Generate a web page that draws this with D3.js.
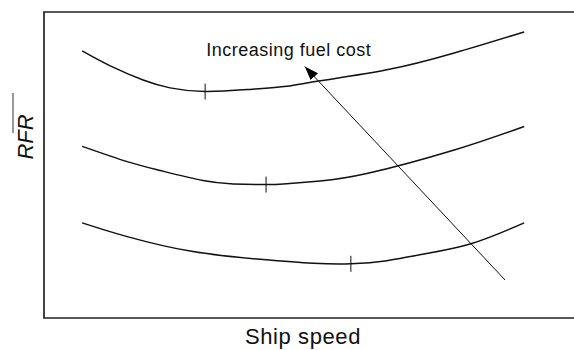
<!DOCTYPE html>
<html>
<head>
<meta charset="utf-8">
<script src="https://cdn.jsdelivr.net/npm/d3@7"></script>
<style>
  html, body { margin: 0; padding: 0; background: #fff; }
  svg { display: block; font-family: "Liberation Sans", Arial, sans-serif; }
</style>
</head>
<body>
<svg id="chart" width="574" height="350"></svg>
<script>
// Required freight rate vs. ship speed, one curve per fuel price level
const speedLow  = [0.72, 1.25, 1.87, 2.38, 3.04, 3.89, 4.58, 5.21, 6.47, 7.74, 9.06];
const rfrLow    = [8.73, 8.24, 7.78, 7.52, 7.40, 7.47, 7.57, 7.75, 8.11, 8.66, 9.35];
const speedMid  = [0.72, 1.57, 2.19, 3.00, 3.57, 4.19, 4.58, 5.21, 6.09, 7.74, 9.06];
const rfrMid    = [5.61, 5.11, 4.82, 4.49, 4.38, 4.36, 4.39, 4.48, 4.72, 5.49, 6.26];
const speedHigh = [0.72, 1.57, 2.81, 4.08, 5.08, 5.79, 6.47, 7.09, 8.04, 9.06];
const rfrHigh   = [3.11, 2.66, 2.17, 1.92, 1.79, 1.77, 1.87, 2.07, 2.42, 3.11];

// optimum speed (minimum RFR) on each curve
const optSpeed = [3.04, 4.19, 5.79];
const optRfr   = [7.40, 4.36, 1.77];

// arrow showing the direction of rising fuel cost
const arrowFrom = [8.70, 1.24];
const arrowTo   = [4.92, 8.22];
const arrowText = "Increasing fuel cost";

const xTitle = "Ship speed";
const yTitle = "RFR";

const svg = d3.select("#chart");
const m = { left: 44, right: 574, top: 12, bottom: 318 };

const x = d3.scaleLinear().domain([0, 10]).range([m.left, m.right]);
const y = d3.scaleLinear().domain([0, 10]).range([m.bottom, m.top]);

// frame: left, top and bottom edges
svg.append("path")
  .attr("d", d3.line()([[m.right, m.top], [m.left, m.top], [m.left, m.bottom], [m.right, m.bottom]]))
  .attr("stroke", "#222").attr("stroke-width", 1.7).attr("fill", "none");

const line = d3.line().x(d => x(d[0])).y(d => y(d[1])).curve(d3.curveNatural);

const curves = [
  d3.zip(speedLow, rfrLow),
  d3.zip(speedMid, rfrMid),
  d3.zip(speedHigh, rfrHigh)
];

svg.append("g")
  .selectAll("path")
  .data(curves)
  .join("path")
  .attr("d", line)
  .attr("fill", "none")
  .attr("stroke", "#111")
  .attr("stroke-width", 1.5);

// small vertical ticks marking each optimum
svg.append("g")
  .selectAll("line")
  .data(d3.zip(optSpeed, optRfr))
  .join("line")
  .attr("x1", d => x(d[0])).attr("x2", d => x(d[0]))
  .attr("y1", d => y(d[1]) - 8).attr("y2", d => y(d[1]) + 8)
  .attr("stroke", "#111")
  .attr("stroke-width", 1);

// arrow
svg.append("defs").append("marker")
  .attr("id", "head")
  .attr("viewBox", "0 0 14 10")
  .attr("refX", 14).attr("refY", 5)
  .attr("markerWidth", 14).attr("markerHeight", 10)
  .attr("markerUnits", "userSpaceOnUse")
  .attr("orient", "auto")
  .append("path")
  .attr("d", "M0,0 L14,5 L0,10 Z")
  .attr("fill", "#000");

svg.append("line")
  .attr("x1", x(arrowFrom[0])).attr("y1", y(arrowFrom[1]))
  .attr("x2", x(arrowTo[0])).attr("y2", y(arrowTo[1]))
  .attr("stroke", "#111")
  .attr("stroke-width", 1)
  .attr("marker-end", "url(#head)");

svg.append("text")
  .attr("x", x(3.06)).attr("y", y(8.56))
  .attr("font-size", 18)
  .attr("letter-spacing", 0.5)
  .attr("fill", "#111")
  .text(arrowText);

// axis titles
svg.append("text")
  .attr("x", 303).attr("y", 344)
  .attr("text-anchor", "middle")
  .attr("font-size", 22)
  .attr("letter-spacing", 0.6)
  .attr("fill", "#111")
  .text(xTitle);

const yt = svg.append("g").attr("transform", "translate(33,137) rotate(-90)");
yt.append("text")
  .attr("x", 0).attr("y", 0)
  .attr("text-anchor", "middle")
  .attr("font-size", 22)
  .attr("font-style", "italic")
  .attr("fill", "#111")
  .text(yTitle);
// bar over the title
yt.append("line")
  .attr("x1", 4).attr("x2", 44)
  .attr("y1", -20).attr("y2", -20)
  .attr("stroke", "#333").attr("stroke-width", 1);
</script>
</body>
</html>
